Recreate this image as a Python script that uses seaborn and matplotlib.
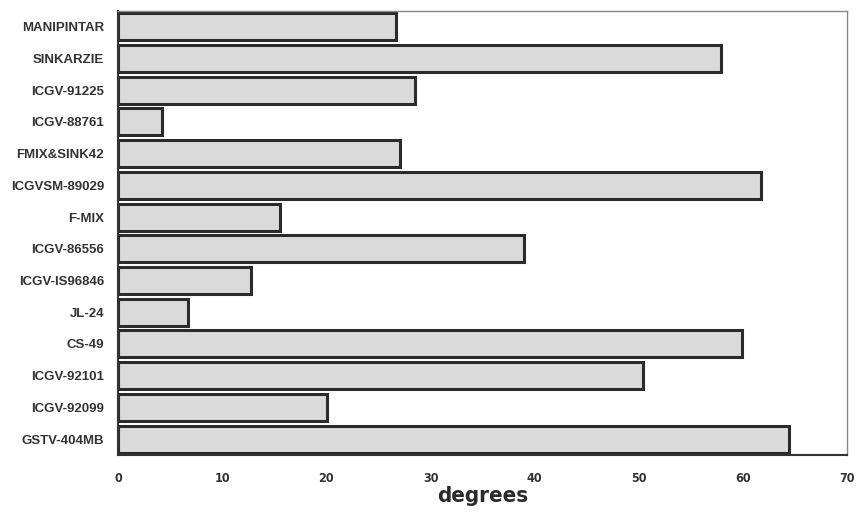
import numpy as np
import pandas as pd
import matplotlib
matplotlib.use("Agg")
from matplotlib import pyplot as plt
import seaborn as sns

# varieties, top to bottom, and their values in degrees
varieties = ["MANIPINTAR", "SINKARZIE", "ICGV-91225", "ICGV-88761", "FMIX&SINK42",
             "ICGVSM-89029", "F-MIX", "ICGV-86556", "ICGV-IS96846", "JL-24",
             "CS-49", "ICGV-92101", "ICGV-92099", "GSTV-404MB"]
degrees = [26.7, 57.9, 28.5, 4.2, 27.1, 61.7, 15.5, 39.0, 12.8, 6.7,
           59.9, 50.4, 20.1, 64.4]
x_ticks = [0, 10, 20, 30, 40, 50, 60, 70]

df = pd.DataFrame({"variety": varieties, "degrees": degrees})

sns.set_style("white")
plt.rcParams["font.family"] = ["Liberation Sans", "DejaVu Sans"]

fig = plt.figure(figsize=(8.56, 5.15), dpi=100)
ax = fig.add_axes([0.138, 0.1165, 0.8515, 0.8625])

sns.barplot(data=df, x="degrees", y="variety", order=varieties, orient="h",
            color="#dadada", saturation=1, width=0.85,
            edgecolor="#2b2b2b", linewidth=2.2, ax=ax)

ax.set_xlim(0, 70)
ax.set_ylim(len(varieties) - 0.5, -0.5)

# category boundaries get the tick marks, labels sit between them
pos = np.arange(len(varieties))
ax.set_yticks(np.arange(len(varieties) + 1) - 0.5)
ax.set_yticklabels([])
ax.set_yticks(pos, minor=True)
ax.set_yticklabels(varieties, minor=True, fontsize=9.5, fontweight="bold", color="#333333")
ax.tick_params(axis="y", which="major", length=4, width=1, color="#444444", direction="out")
ax.tick_params(axis="y", which="minor", length=0, pad=10)

narrow = dict(family=["DejaVu Sans"], fontstretch="condensed", fontweight="bold", color="#333333")
ax.set_xticks(x_ticks)
ax.set_xticklabels([str(t) for t in x_ticks], fontsize=9, **narrow)
ax.tick_params(axis="x", length=4, width=1, color="#444444", direction="out", pad=8)

ax.set_xlabel("degrees", fontsize=16, family=["DejaVu Sans"], fontstretch="condensed",
              fontweight="heavy", color="#2b2b2b", labelpad=1)
ax.set_ylabel("")

for side in ["left", "bottom"]:
    ax.spines[side].set_color("#333333")
    ax.spines[side].set_linewidth(1.5)
for side in ["top", "right"]:
    ax.spines[side].set_color("#888888")
    ax.spines[side].set_linewidth(1)

fig.savefig("out.png", dpi=100)
